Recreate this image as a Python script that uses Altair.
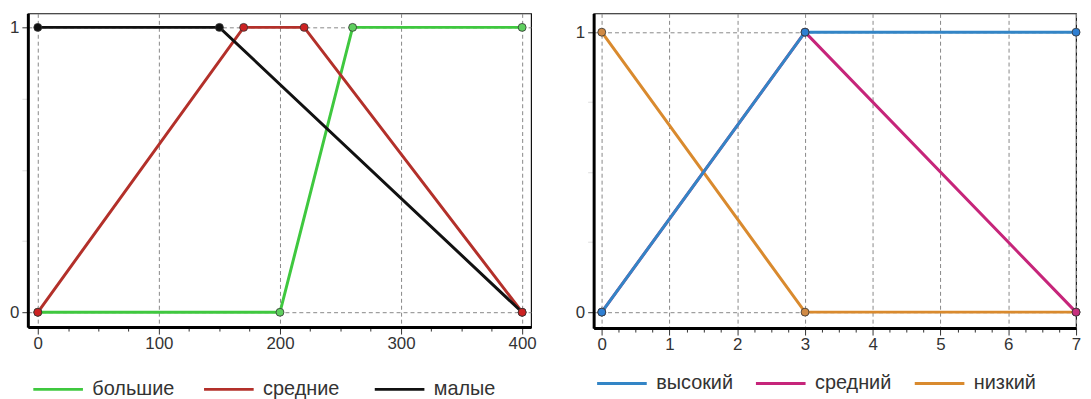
import altair as alt
import pandas as pd

FONT = "Liberation Sans"

# ---------------- left chart data ----------------
left_series = ["большие", "средние", "малые"]
left_line_colors = ["#3fc83f", "#b3302a", "#111111"]
left_point_colors = ["#5fcf5f", "#cc2222", "#111111"]
big_x = [0, 200, 260, 400]
big_y = [0, 0, 1, 1]
mid_x = [0, 170, 220, 400]
mid_y = [0, 1, 1, 0]
small_x = [0, 150, 400]
small_y = [1, 1, 0]

# ---------------- right chart data ----------------
right_series = ["высокий", "средний", "низкий"]
right_line_colors = ["#3385c6", "#c6257a", "#d98a2e"]
right_point_colors = ["#2f7fd2", "#c8307e", "#d08a45"]
high_x = [0, 3, 7]
high_y = [0, 1, 1]
rmid_x = [0, 3, 7]
rmid_y = [0, 1, 0]
low_x = [0, 3, 7]
low_y = [1, 0, 0]

left_x_ticks = list(range(0, 401, 25))
right_x_ticks = [i * 0.25 for i in range(0, 29)]
y_ticks = [0, 0.25, 0.5, 0.75, 1]


def frame(name, xs, ys):
    return pd.DataFrame({"x": xs, "y": ys, "s": name, "o": list(range(len(xs)))})


left_df = pd.concat([frame("большие", big_x, big_y),
                     frame("средние", mid_x, mid_y),
                     frame("малые", small_x, small_y)], ignore_index=True)
right_df = pd.concat([frame("высокий", high_x, high_y),
                      frame("средний", rmid_x, rmid_y),
                      frame("низкий", low_x, low_y)], ignore_index=True)


def cond(test, a, b):
    return {"condition": {"test": test, "value": a}, "value": b}


AX = dict(labelFont=FONT, labelFontSize=17, labelColor="#333333",
          domainColor="#000000", domainWidth=3, gridColor="#888888",
          gridDash=[4, 3], gridWidth=1, title=None, labelOverlap=False,
          labelFlush=False)


def build(df, series, line_colors, point_colors, line_order, point_order,
          xdom, ydom, xticks, major_test, width, height, legx, legy, colpad):
    xaxis = alt.Axis(values=xticks,
                     labelExpr="(" + major_test + ") ? format(datum.value, 'd') : ''",
                     tickSize=cond(major_test, 7, 4),
                     tickColor="#333333",
                     gridOpacity=cond(major_test, 1, 0),
                     labelPadding=2, **AX)
    yaxis = alt.Axis(values=y_ticks,
                     labelExpr="(datum.value == 0 || datum.value == 1) ? format(datum.value, 'd') : ''",
                     tickSize=6, labelPadding=3,
                     tickColor=cond("datum.value == 0 || datum.value == 1", "#333333", "#dddddd"),
                     gridOpacity=cond("datum.value == 0 || datum.value == 1", 1, 0), **AX)
    x = alt.X("x:Q", scale=alt.Scale(domain=xdom, nice=False, zero=False), axis=xaxis)
    y = alt.Y("y:Q", scale=alt.Scale(domain=ydom, nice=False, zero=False), axis=yaxis)
    color = alt.Color("s:N", scale=alt.Scale(domain=series, range=line_colors),
                      legend=alt.Legend(orient="none", legendX=legx, legendY=legy,
                                        direction="horizontal", title=None,
                                        columns=3, gridAlign="all",
                                        symbolType="stroke", symbolSize=2500,
                                        symbolStrokeWidth=3, labelFontSize=20,
                                        labelFont=FONT, labelColor="#333333",
                                        labelOffset=8, columnPadding=colpad, padding=0))
    fill = alt.Fill("s:N", scale=alt.Scale(domain=series, range=point_colors), legend=None)
    base = alt.Chart(df)
    layers = []
    for name in line_order:
        layers.append(base.transform_filter(alt.datum.s == name)
                      .mark_line(strokeWidth=3)
                      .encode(x=x, y=y, color=color, order=alt.Order("o:Q")))
    for name in point_order:
        layers.append(base.transform_filter(alt.datum.s == name)
                      .mark_circle(size=64, stroke="#333333", strokeWidth=0.8, opacity=1)
                      .encode(x=x, y=y, fill=fill))
    return alt.layer(*layers).properties(width=width, height=height)


left = build(left_df, left_series, left_line_colors, left_point_colors,
             ["большие", "средние", "малые"], ["малые", "большие", "средние"],
             [-8.2, 407.4], [-0.052, 1.049], left_x_ticks,
             "datum.value % 100 == 0", 507, 316, 4, 352, 23)

right = build(right_df, right_series, right_line_colors, right_point_colors,
              ["низкий", "средний", "высокий"], ["низкий", "средний", "высокий"],
              [-0.12, 7.0], [-0.057, 1.067], right_x_ticks,
              "datum.value % 1 == 0", 486, 317, 2, 346, 16)

chart = alt.hconcat(left, right, spacing=63, bounds="flush").resolve_scale(
    color="independent", fill="independent"
).resolve_legend(color="independent", fill="independent").properties(
    padding={"left": 0, "top": 3, "right": 0, "bottom": 0},
    background="white"
).configure_view(stroke="#111111", strokeWidth=1.2)

chart.save("out.html", embed_options={"renderer": "svg", "actions": False})
